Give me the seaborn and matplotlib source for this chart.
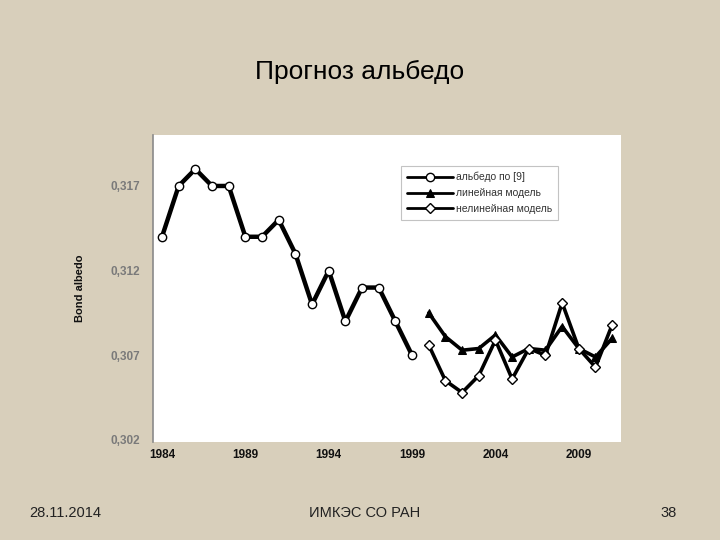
import pandas as pd
import matplotlib.pyplot as plt
import seaborn as sns

# Albedo series
YEARS_OBS = list(range(1984, 2000))
ALBEDO_OBS = [0.314, 0.317, 0.318, 0.317, 0.317, 0.314, 0.314, 0.315,
              0.313, 0.310, 0.312, 0.309, 0.311, 0.311, 0.309, 0.307]

YEARS_MODEL = list(range(2000, 2012))
LINEAR = [0.3095, 0.3081, 0.3073, 0.3074, 0.3082, 0.3069,
          0.3074, 0.3073, 0.3087, 0.3074, 0.3069, 0.3080]
NONLINEAR = [0.3076, 0.3055, 0.3048, 0.3058, 0.3079, 0.3056,
             0.3074, 0.3070, 0.3101, 0.3074, 0.3063, 0.3088]

X_TICKS = [1984, 1989, 1994, 1999, 2004, 2009]
Y_TICKS = [0.302, 0.307, 0.312, 0.317]
LABELS = ['альбедо по [9]', 'линейная модель', 'нелинейная модель']

BG = '#d8cfbb'

sns.set_theme(style="white")
plt.rcParams['font.family'] = ['Liberation Sans', 'DejaVu Sans']

fig = plt.figure(figsize=(7.2, 5.4), dpi=100, facecolor=BG)
ax = fig.add_axes([0.2125, 0.1815, 0.65, 0.5685])
ax.set_facecolor('white')

obs = pd.DataFrame({'year': YEARS_OBS, 'value': ALBEDO_OBS})
lin = pd.DataFrame({'year': YEARS_MODEL, 'value': LINEAR})
nonlin = pd.DataFrame({'year': YEARS_MODEL, 'value': NONLINEAR})

sns.lineplot(data=obs, x='year', y='value', ax=ax, color='black', lw=3.2,
             marker='o', markersize=6, markerfacecolor='white',
             markeredgecolor='black', markeredgewidth=1.0, label=LABELS[0])
sns.lineplot(data=lin, x='year', y='value', ax=ax, color='black', lw=2.6,
             marker='^', markersize=6, markerfacecolor='black',
             markeredgecolor='black', label=LABELS[1])
sns.lineplot(data=nonlin, x='year', y='value', ax=ax, color='black', lw=2.6,
             marker='D', markersize=5, markerfacecolor='white',
             markeredgecolor='black', markeredgewidth=1.0, label=LABELS[2])

ax.set_xlim(1983.46, 2011.53)
ax.set_ylim(0.30188, 0.32001)
ax.set_xticks(X_TICKS)
ax.set_xticklabels([str(y) for y in X_TICKS], fontsize=8.5, fontweight='bold',
                   color='#111111')
ax.set_yticks(Y_TICKS)
ax.set_yticklabels([f'{v:.3f}'.replace('.', ',') for v in Y_TICKS],
                   fontsize=8.5, fontweight='bold', color='#7a7a7a')
ax.tick_params(axis='both', length=0)
ax.tick_params(axis='y', pad=9)
ax.tick_params(axis='x', pad=5)
ax.set_xlabel('')
ax.set_ylabel('Bond albedo', fontsize=8, fontweight='bold', color='#111111')
ax.yaxis.set_label_coords(-0.145, 0.5)

for side in ['top', 'right', 'bottom']:
    ax.spines[side].set_visible(False)
ax.spines['left'].set_color('#8a8a8a')
ax.spines['left'].set_linewidth(1.2)

leg = ax.legend(loc='upper left', bbox_to_anchor=(0.53, 0.9), fontsize=7.5,
                frameon=True, fancybox=False, edgecolor='#b5b5b5',
                handlelength=4.4, borderpad=0.6, labelspacing=0.55,
                handletextpad=0.25, borderaxespad=0.0)
leg.get_frame().set_linewidth(0.8)
for line in leg.get_lines():
    line.set_linewidth(2.0)
for t in leg.get_texts():
    t.set_color('#333333')

fig.text(0.5, 0.867, 'Прогноз альбедо', ha='center', va='center', fontsize=19,
         color='black')
fig.text(0.04, 0.05, '28.11.2014', ha='left', va='center', fontsize=10.5,
         color='#222222')
fig.text(0.507, 0.05, 'ИМКЭС СО РАН', ha='center', va='center',
         fontsize=10.5, color='#222222')
fig.text(0.94, 0.05, '38', ha='right', va='center', fontsize=10.5,
         color='#222222')

fig.savefig('out.png', dpi=100, facecolor=BG)
